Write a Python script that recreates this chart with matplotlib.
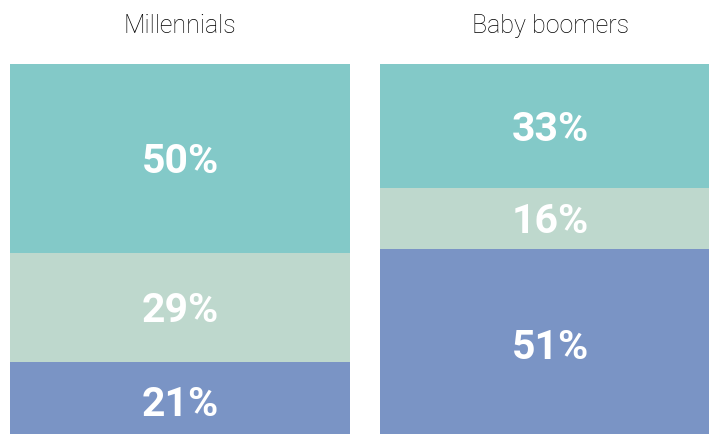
import matplotlib
matplotlib.use('Agg')
from matplotlib import pyplot as plt

groups = ['Millennials', 'Baby boomers']
# segments from bottom to top
blue_vals = [21, 51]
light_vals = [29, 16]
teal_vals = [50, 33]

colors = ['#7A94C5', '#BED8CD', '#83C9C8']

fig = plt.figure(figsize=(7.09, 4.34), dpi=100)
ax = fig.add_axes([0, 0, 1, 1])

x = [0, 1]
width = 0.92
bottom = [0, 0]
for vals, c in zip([blue_vals, light_vals, teal_vals], colors):
    ax.bar(x, vals, width=width, bottom=bottom, color=c, linewidth=0)
    for i in range(len(x)):
        ax.text(x[i], bottom[i] + vals[i] / 2 - 3.8, '%d%%' % vals[i],
                ha='center', va='baseline', color='white', fontsize=29.5,
                fontweight='bold', family='Roboto')
    bottom = [bottom[i] + vals[i] for i in range(len(x))]

for i, g in enumerate(groups):
    ax.text(x[i], 108.15, g, ha='center', va='baseline', fontsize=18,
            fontweight='light', color='#000000', family='Roboto')

ax.set_xlim(-0.487, 1.429)
ax.set_ylim(1.86, 116.98)
ax.axis('off')

plt.savefig('out.png', dpi=100)
